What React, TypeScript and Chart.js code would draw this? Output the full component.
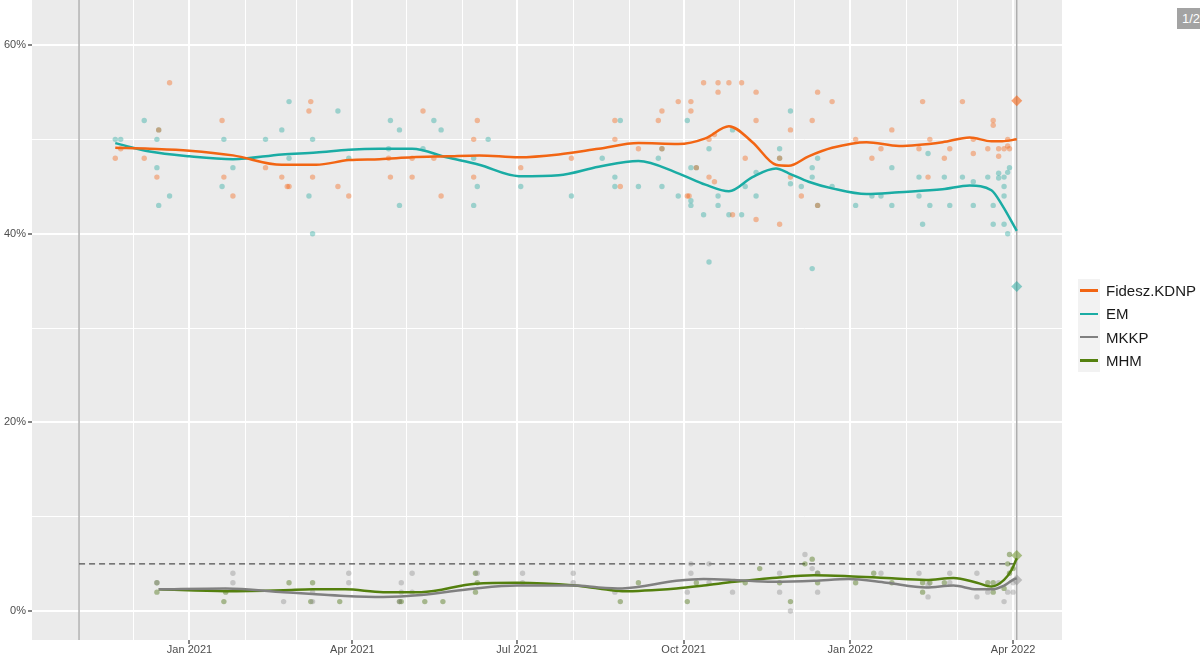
import { useEffect, useRef } from 'react';
import Chart from 'chart.js/auto';

// poll window and election
const windowStart = '2020-11-01';
const electionDate = '2022-04-03';
const thresholdPct = 5;

const parties = ['Fidesz.KDNP', 'EM', 'MKKP', 'MHM'];
const lineColors = ['rgb(242,101,19)', 'rgb(26,172,164)', 'rgb(128,128,128)', 'rgb(84,128,14)'];
const pointColors = ['rgba(245,100,20,0.4)', 'rgba(25,165,155,0.38)', 'rgba(140,140,140,0.4)', 'rgba(70,110,10,0.42)'];
const resultColors = ['rgba(245,100,20,0.6)', 'rgba(25,165,155,0.5)', 'rgba(150,150,150,0.55)', 'rgba(110,150,40,0.55)'];

const electionResults = [54.1, 34.4, 3.3, 5.9];

// smoothed trend, big parties
const trendDates = ['2020-11-21', '2020-12-10', '2021-01-01', '2021-01-25', '2021-02-21', '2021-03-12', '2021-03-30', '2021-04-16', '2021-05-04', '2021-05-23', '2021-06-10', '2021-07-02', '2021-07-24', '2021-08-15', '2021-09-06', '2021-09-28', '2021-10-13', '2021-10-26', '2021-11-08', '2021-11-21', '2021-11-28', '2021-12-09', '2021-12-22', '2022-01-10', '2022-01-28', '2022-02-21', '2022-03-08', '2022-03-20', '2022-03-26', '2022-04-03'];
const fideszTrend = [49.1, 49.0, 48.8, 48.3, 47.3, 47.3, 47.8, 47.9, 48.1, 48.2, 48.3, 48.1, 48.4, 49.0, 49.6, 49.5, 50.1, 51.4, 49.7, 47.3, 47.2, 48.2, 49.1, 49.7, 49.3, 49.7, 50.2, 49.8, 49.8, 50.0];
const emTrend = [49.6, 48.7, 48.2, 47.9, 48.4, 48.6, 48.9, 49.0, 49.0, 48.1, 47.3, 46.1, 46.2, 47.1, 47.7, 46.4, 45.2, 44.5, 46.0, 46.9, 46.4, 45.5, 44.8, 44.2, 44.4, 44.7, 45.1, 44.6, 43.0, 40.3];

// smoothed trend, small parties
const smallTrendDates = ['2020-12-15', '2021-01-21', '2021-02-22', '2021-03-10', '2021-03-28', '2021-04-18', '2021-05-09', '2021-06-08', '2021-07-01', '2021-08-02', '2021-08-15', '2021-08-28', '2021-09-27', '2021-10-12', '2021-10-29', '2021-11-19', '2021-12-12', '2021-12-31', '2022-01-21', '2022-02-12', '2022-02-27', '2022-03-12', '2022-03-20', '2022-03-27', '2022-03-31', '2022-04-03'];
const mkkpTrend = [2.3, 2.4, 2.0, 1.8, 1.6, 1.5, 1.7, 2.4, 2.7, 2.7, 2.5, 2.4, 3.2, 3.4, 3.3, 3.1, 3.2, 3.4, 3.0, 2.5, 2.7, 2.3, 2.3, 2.7, 3.2, 3.5];
const mhmTrend = [2.3, 2.1, 2.2, 2.3, 2.3, 2.0, 2.0, 2.9, 3.0, 2.7, 2.4, 2.1, 2.4, 2.7, 3.1, 3.5, 3.8, 3.7, 3.5, 3.3, 3.5, 3.0, 2.6, 3.3, 4.3, 5.6];

// individual polls [date, %]
const fideszPolls: [string, number][] = [
  ['2020-11-21', 48], ['2020-11-24', 49], ['2020-12-07', 48], ['2020-12-14', 46], ['2020-12-15', 51], ['2020-12-21', 56],
  ['2021-01-19', 52], ['2021-01-20', 46], ['2021-01-25', 44], ['2021-02-12', 47], ['2021-02-21', 46], ['2021-02-24', 45], ['2021-02-25', 45],
  ['2021-03-08', 53], ['2021-03-09', 54], ['2021-03-10', 46], ['2021-03-24', 45], ['2021-03-30', 44],
  ['2021-04-21', 48], ['2021-04-22', 46], ['2021-05-04', 46], ['2021-05-04', 48], ['2021-05-10', 53], ['2021-05-16', 48], ['2021-05-20', 44],
  ['2021-06-07', 50], ['2021-06-07', 46], ['2021-06-09', 52], ['2021-07-03', 47], ['2021-07-31', 48],
  ['2021-08-24', 52], ['2021-08-24', 50], ['2021-08-27', 45], ['2021-09-06', 49], ['2021-09-17', 52], ['2021-09-19', 53], ['2021-09-19', 49], ['2021-09-28', 54],
  ['2021-10-03', 44], ['2021-10-04', 44], ['2021-10-05', 54], ['2021-10-05', 53], ['2021-10-08', 47], ['2021-10-12', 56], ['2021-10-15', 50], ['2021-10-15', 46], ['2021-10-18', 50.5], ['2021-10-18', 45.5],
  ['2021-10-20', 56], ['2021-10-20', 55], ['2021-10-26', 56], ['2021-10-28', 42], ['2021-11-02', 56], ['2021-11-04', 48], ['2021-11-10', 55], ['2021-11-10', 52], ['2021-11-10', 41.5],
  ['2021-11-23', 48], ['2021-11-23', 41], ['2021-11-29', 51], ['2021-11-29', 46], ['2021-12-05', 44], ['2021-12-11', 52], ['2021-12-14', 55], ['2021-12-14', 43], ['2021-12-22', 54],
  ['2022-01-04', 50], ['2022-01-13', 48], ['2022-01-18', 49], ['2022-01-24', 51], ['2022-02-08', 49], ['2022-02-10', 54], ['2022-02-13', 46], ['2022-02-14', 50], ['2022-02-22', 48], ['2022-02-25', 49],
  ['2022-03-04', 54], ['2022-03-10', 50], ['2022-03-10', 48.5], ['2022-03-18', 49], ['2022-03-21', 51.5], ['2022-03-21', 52], ['2022-03-24', 49], ['2022-03-24', 48.2], ['2022-03-27', 49], ['2022-03-29', 50], ['2022-03-29', 49.3], ['2022-03-30', 49],
];

const emPolls: [string, number][] = [
  ['2020-11-21', 50], ['2020-11-24', 50], ['2020-12-07', 52], ['2020-12-14', 50], ['2020-12-14', 47], ['2020-12-15', 51], ['2020-12-15', 43], ['2020-12-21', 44],
  ['2021-01-19', 45], ['2021-01-20', 50], ['2021-01-25', 47], ['2021-02-12', 50], ['2021-02-21', 51], ['2021-02-25', 54], ['2021-02-25', 48],
  ['2021-03-08', 44], ['2021-03-10', 50], ['2021-03-10', 40], ['2021-03-24', 53], ['2021-03-30', 48],
  ['2021-04-21', 49], ['2021-04-22', 52], ['2021-04-27', 51], ['2021-04-27', 43], ['2021-05-10', 49], ['2021-05-16', 52], ['2021-05-20', 51],
  ['2021-06-07', 48], ['2021-06-07', 43], ['2021-06-09', 45], ['2021-06-15', 50], ['2021-07-03', 45], ['2021-07-31', 44],
  ['2021-08-17', 48], ['2021-08-24', 46], ['2021-08-24', 45], ['2021-08-27', 52], ['2021-09-06', 45], ['2021-09-17', 48], ['2021-09-19', 49], ['2021-09-19', 45], ['2021-09-28', 44],
  ['2021-10-03', 52], ['2021-10-05', 47], ['2021-10-05', 43.5], ['2021-10-05', 43], ['2021-10-08', 47], ['2021-10-12', 42], ['2021-10-15', 49], ['2021-10-15', 37], ['2021-10-20', 44], ['2021-10-20', 43], ['2021-10-26', 42], ['2021-10-28', 51],
  ['2021-11-02', 42], ['2021-11-04', 45], ['2021-11-10', 44], ['2021-11-10', 46.5], ['2021-11-23', 49], ['2021-11-23', 48], ['2021-11-29', 53], ['2021-11-29', 45.3],
  ['2021-12-05', 45], ['2021-12-11', 47], ['2021-12-11', 46], ['2021-12-11', 36.3], ['2021-12-14', 48], ['2021-12-14', 43], ['2021-12-22', 45],
  ['2022-01-04', 43], ['2022-01-13', 44], ['2022-01-18', 44], ['2022-01-24', 47], ['2022-01-24', 43], ['2022-02-08', 46], ['2022-02-08', 44], ['2022-02-10', 41], ['2022-02-13', 48.5], ['2022-02-14', 43], ['2022-02-22', 46], ['2022-02-25', 43],
  ['2022-03-04', 46], ['2022-03-10', 45.5], ['2022-03-10', 43], ['2022-03-18', 46], ['2022-03-21', 43], ['2022-03-21', 41], ['2022-03-24', 46.4], ['2022-03-24', 45.9], ['2022-03-27', 46], ['2022-03-27', 45], ['2022-03-27', 44], ['2022-03-27', 41], ['2022-03-29', 46.5], ['2022-03-29', 40], ['2022-03-30', 47],
];

const mkkpPolls: [string, number][] = [
  ['2020-12-14', 3], ['2021-01-25', 4], ['2021-01-25', 3], ['2021-02-22', 1], ['2021-03-10', 1], ['2021-03-10', 2], ['2021-03-30', 4], ['2021-03-30', 3],
  ['2021-04-27', 1], ['2021-04-28', 3], ['2021-04-28', 2], ['2021-05-04', 4], ['2021-05-04', 2], ['2021-06-09', 4], ['2021-07-04', 4], ['2021-07-04', 3], ['2021-08-01', 4], ['2021-08-01', 3],
  ['2021-08-24', 2], ['2021-10-03', 2], ['2021-10-05', 4], ['2021-10-05', 5], ['2021-10-15', 5], ['2021-10-15', 3], ['2021-10-28', 2], ['2021-11-23', 4], ['2021-11-23', 2], ['2021-11-29', 0],
  ['2021-12-07', 6], ['2021-12-11', 4.5], ['2021-12-14', 4], ['2021-12-14', 2], ['2022-01-18', 4], ['2022-02-08', 4], ['2022-02-13', 1.5], ['2022-02-13', 2.8], ['2022-02-25', 4], ['2022-02-25', 3],
  ['2022-03-12', 4], ['2022-03-12', 1.5], ['2022-03-18', 2], ['2022-03-24', 3], ['2022-03-27', 1], ['2022-03-29', 2], ['2022-04-01', 3], ['2022-04-01', 2],
];

const mhmPolls: [string, number][] = [
  ['2020-12-14', 3], ['2020-12-14', 2], ['2021-01-20', 1], ['2021-01-21', 2], ['2021-02-25', 3], ['2021-03-09', 1], ['2021-03-10', 3], ['2021-03-25', 1],
  ['2021-04-27', 1], ['2021-04-28', 1], ['2021-05-11', 1], ['2021-05-21', 1], ['2021-06-08', 4], ['2021-06-09', 3], ['2021-06-08', 2],
  ['2021-08-27', 1], ['2021-09-06', 3], ['2021-10-03', 1], ['2021-10-08', 3], ['2021-11-04', 3], ['2021-11-12', 4.5], ['2021-11-23', 3], ['2021-11-29', 1],
  ['2021-12-07', 5], ['2021-12-11', 5.5], ['2021-12-14', 4], ['2021-12-14', 3], ['2022-01-04', 3], ['2022-01-14', 4], ['2022-01-24', 3], ['2022-02-10', 3], ['2022-02-10', 2], ['2022-02-14', 3], ['2022-02-22', 3],
  ['2022-03-18', 3], ['2022-03-21', 3], ['2022-03-21', 2], ['2022-03-27', 2.4], ['2022-03-30', 6], ['2022-03-30', 4], ['2022-03-29', 5], ['2022-04-01', 4.5],
];

const xMin = '2020-10-06';
const xMax = '2022-04-28';
const yMin = -3.07;
const yMax = 64.77;

const t = (d: string) => Date.parse(d);
const monthNames = ['Jan', 'Feb', 'Mar', 'Apr', 'May', 'Jun', 'Jul', 'Aug', 'Sep', 'Oct', 'Nov', 'Dec'];

const monthTicks = () => {
  const out: { value: number }[] = [];
  for (let y = 2020, m = 10; y < 2022 || m <= 3; m++) {
    if (m > 11) { m = 0; y++; }
    out.push({ value: Date.UTC(y, m, 1) });
  }
  return out;
};

const isMajorMonth = (v: number) => new Date(v).getUTCMonth() % 3 === 0;

const panelPlugin = {
  id: 'panel',
  beforeDraw(chart: any) {
    const { ctx, chartArea: a } = chart;
    ctx.save();
    ctx.fillStyle = '#EBEBEB';
    ctx.fillRect(a.left, a.top, a.right - a.left, a.bottom - a.top);
    ctx.restore();
  },
  beforeDatasetsDraw(chart: any) {
    const { ctx, chartArea: a, scales } = chart;
    const x0 = scales.x.getPixelForValue(t(windowStart));
    const x1 = scales.x.getPixelForValue(t(electionDate));
    ctx.save();
    ctx.strokeStyle = '#ABABAB';
    ctx.lineWidth = 1.4;
    [x0, x1].forEach((px) => {
      ctx.beginPath();
      ctx.moveTo(px, a.top);
      ctx.lineTo(px, a.bottom);
      ctx.stroke();
    });
    const py = scales.y.getPixelForValue(thresholdPct);
    ctx.strokeStyle = '#505050';
    ctx.lineWidth = 1.2;
    ctx.setLineDash([6, 4]);
    ctx.beginPath();
    ctx.moveTo(x0, py);
    ctx.lineTo(x1, py);
    ctx.stroke();
    ctx.restore();
  },
};

export default function App() {
  const canvasRef = useRef<HTMLCanvasElement | null>(null);
  const chartRef = useRef<Chart | null>(null);

  useEffect(() => {
    document.body.style.margin = '0';
    document.body.style.overflow = 'hidden';
    if (!canvasRef.current) return;
    if (chartRef.current) chartRef.current.destroy();

    const toXY = (dates: string[], vals: number[]) => dates.map((d, i) => ({ x: t(d), y: vals[i] }));
    const pollXY = (polls: [string, number][]) => polls.map(([d, v]) => ({ x: t(d), y: v }));

    const trends = [
      toXY(trendDates, fideszTrend),
      toXY(trendDates, emTrend),
      toXY(smallTrendDates, mkkpTrend),
      toXY(smallTrendDates, mhmTrend),
    ];
    const polls = [fideszPolls, emPolls, mkkpPolls, mhmPolls].map(pollXY);

    const lineSets = parties.map((p, i) => ({
      label: p,
      data: trends[i],
      showLine: true,
      borderColor: lineColors[i],
      borderWidth: 2.5,
      pointRadius: 0,
      cubicInterpolationMode: 'monotone' as const,
      order: 0,
    }));
    const pointSets = parties.map((p, i) => ({
      label: p + ' polls',
      data: polls[i],
      backgroundColor: pointColors[i],
      borderWidth: 0,
      pointRadius: 2.7,
      order: 2,
    }));
    const resultSets = parties.map((p, i) => ({
      label: p + ' result',
      data: [{ x: t(electionDate), y: electionResults[i] }],
      backgroundColor: resultColors[i],
      borderWidth: 0,
      pointStyle: 'rectRot' as const,
      pointRadius: 5.5,
      order: 1,
    }));

    chartRef.current = new Chart(canvasRef.current, {
      type: 'scatter',
      data: { datasets: [...lineSets, ...resultSets, ...pointSets] as any },
      options: {
        animation: false,
        responsive: true,
        maintainAspectRatio: false,
        layout: { autoPadding: false, padding: { left: 0, right: 138, top: 0, bottom: 0 } },
        plugins: { legend: { display: false }, tooltip: { enabled: false } },
        scales: {
          x: {
            type: 'linear',
            min: t(xMin),
            max: t(xMax),
            afterBuildTicks: (scale: any) => { scale.ticks = monthTicks(); },
            afterFit: (scale: any) => {
              scale.height = 24;
              scale.paddingLeft = 0;
              scale.paddingRight = 0;
            },
            border: { display: false },
            grid: {
              color: '#FFFFFF',
              lineWidth: (ctx: any) => (isMajorMonth(ctx.tick.value) ? 2 : 1),
              tickColor: (ctx: any) => (isMajorMonth(ctx.tick.value) ? '#333333' : 'rgba(0,0,0,0)'),
              tickLength: 4,
              tickWidth: 1.2,
            },
            ticks: {
              autoSkip: false,
              maxRotation: 0,
              padding: -1,
              color: '#4D4D4D',
              font: { size: 11, family: '"Liberation Sans", Arial, sans-serif' },
              callback: (v: any) => {
                const d = new Date(v);
                return isMajorMonth(v) ? `${monthNames[d.getUTCMonth()]} ${d.getUTCFullYear()}` : '';
              },
            },
          },
          y: {
            type: 'linear',
            min: yMin,
            max: yMax,
            afterBuildTicks: (scale: any) => {
              scale.ticks = [0, 10, 20, 30, 40, 50, 60].map((v) => ({ value: v }));
            },
            afterFit: (scale: any) => {
              scale.width = 32;
              scale.paddingTop = 0;
              scale.paddingBottom = 0;
            },
            border: { display: false },
            grid: {
              color: '#FFFFFF',
              lineWidth: (ctx: any) => (ctx.tick.value % 20 === 0 ? 2 : 1),
              tickColor: (ctx: any) => (ctx.tick.value % 20 === 0 ? '#333333' : 'rgba(0,0,0,0)'),
              tickLength: 4,
              tickWidth: 1.2,
            },
            ticks: {
              padding: 2,
              color: '#4D4D4D',
              font: { size: 11, family: '"Liberation Sans", Arial, sans-serif' },
              callback: (v: any) => (v % 20 === 0 ? `${v}%` : ''),
            },
          },
        },
      },
      plugins: [panelPlugin],
    });

    return () => {
      if (chartRef.current) {
        chartRef.current.destroy();
        chartRef.current = null;
      }
    };
  }, []);

  return (
    <div style={{ position: 'relative', width: 1200, height: 664, background: '#FFFFFF', fontFamily: '"Liberation Sans", Arial, sans-serif' }}>
      <canvas ref={canvasRef} />
      <div style={{ position: 'absolute', left: 1078, top: 279 }}>
        {parties.map((p, i) => (
          <div key={p} style={{ display: 'flex', alignItems: 'center', height: 23.25 }}>
            <div style={{ width: 22, height: 23.25, background: '#F2F2F2', display: 'flex', alignItems: 'center', justifyContent: 'center' }}>
              <div style={{ width: 18, height: 2.5, background: lineColors[i] }} />
            </div>
            <span style={{ marginLeft: 6, fontSize: 15, color: '#1A1A1A', whiteSpace: 'nowrap' }}>{p}</span>
          </div>
        ))}
      </div>
      <div style={{ position: 'absolute', left: 1177, top: 8, width: 36, height: 21, background: '#A3A3A3', color: '#FFFFFF', fontSize: 13, lineHeight: '21px', paddingLeft: 5, boxSizing: 'border-box' }}>
        1/2
      </div>
    </div>
  );
}
